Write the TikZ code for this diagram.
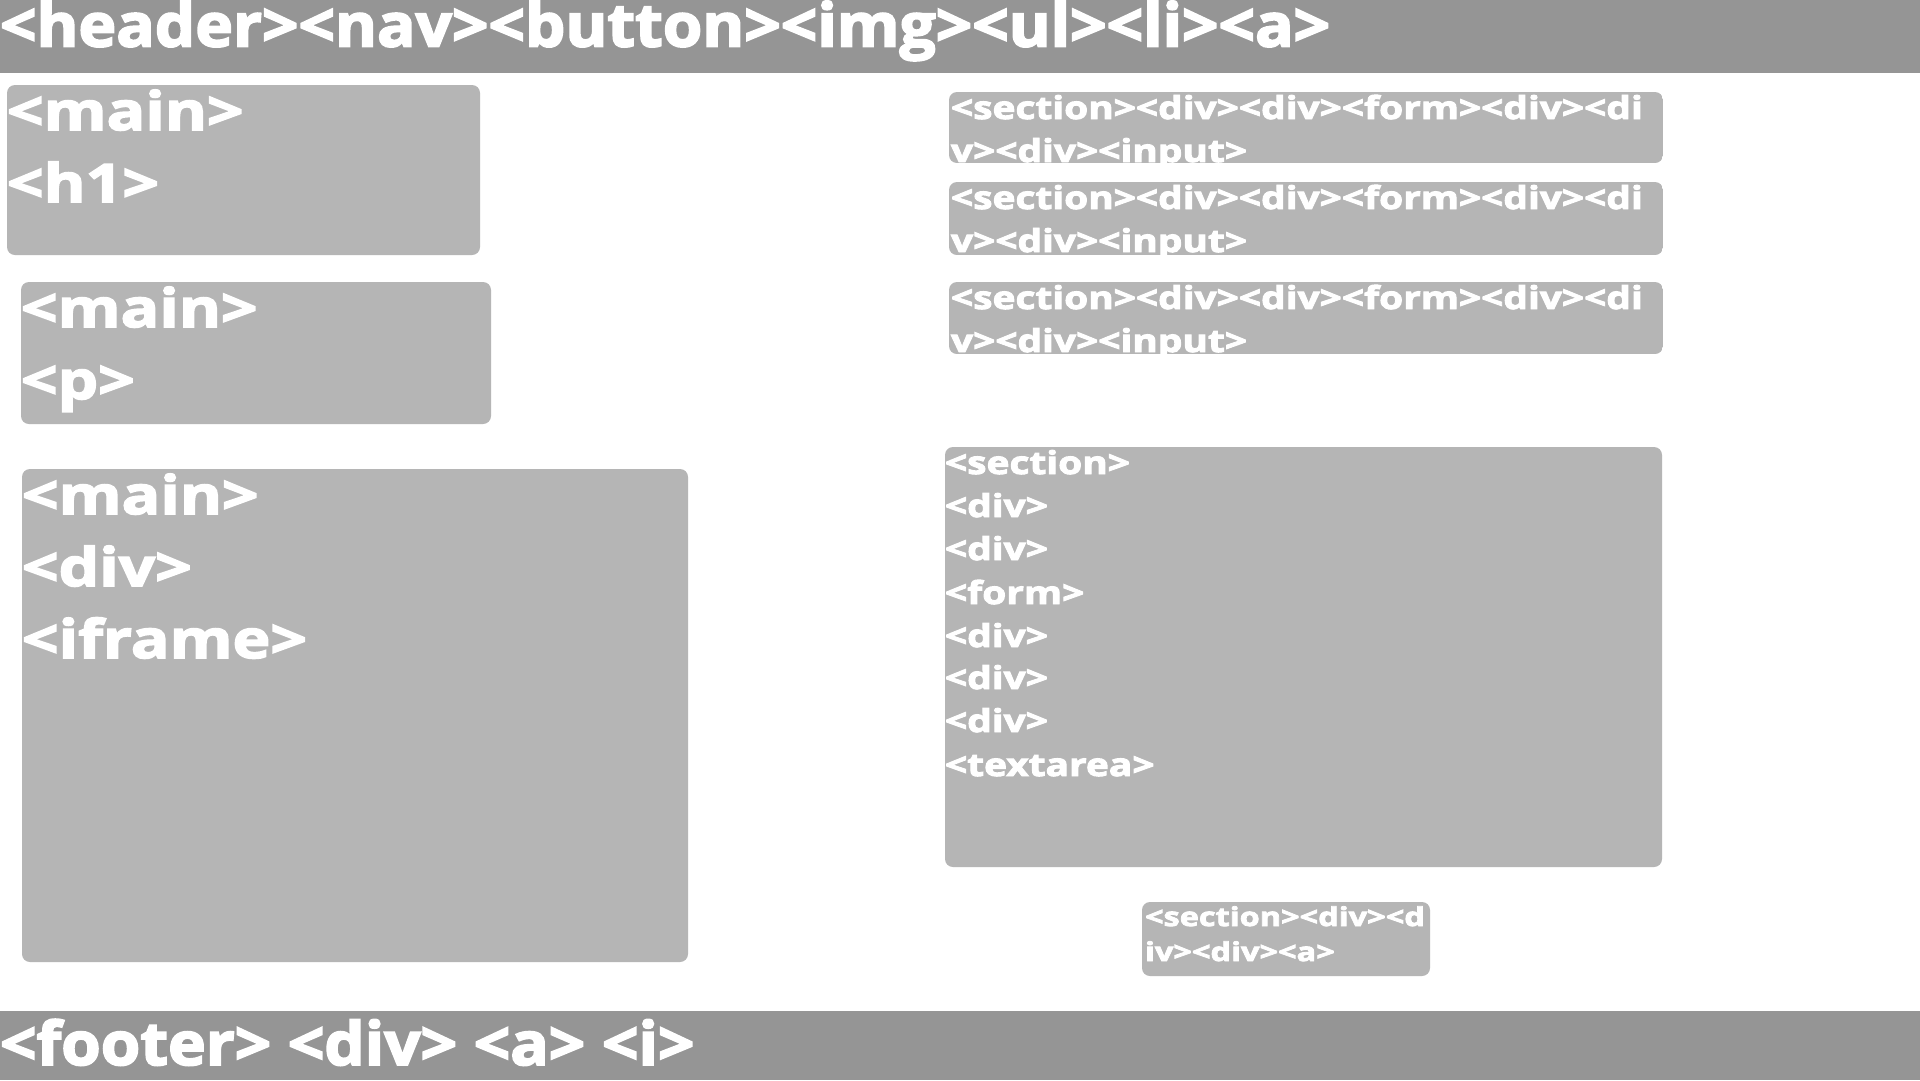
\documentclass[tikz,border=0pt]{standalone}
\usepackage{fontspec}
\setmainfont{Open Sans}
\newfontfamily\hdrfont{Open Sans}[FakeStretch=1.065, BoldFeatures={FakeBold=3}]
\newfontfamily\bigfont{Open Sans}[FakeStretch=1.21, BoldFeatures={FakeBold=3}]
\newfontfamily\midfont{Open Sans}[FakeStretch=1.23, BoldFeatures={FakeBold=3}]
\newfontfamily\smlfont{Open Sans}[FakeStretch=1.25, BoldFeatures={FakeBold=3}]
\definecolor{hdr}{HTML}{959595}
\definecolor{boxc}{HTML}{B5B5B5}
\tikzset{
  bar/.style={fill=hdr, draw=none},
  panel/.style={fill=boxc, draw=none, rounded corners=8pt},
  lbl/.style={anchor=base west, inner sep=0pt, outer sep=0pt, text=white},
  hugetxt/.style={lbl, font=\hdrfont\fontsize{60}{80}\selectfont\bfseries},
  bigtxt/.style={lbl, font=\bigfont\fontsize{53}{72}\selectfont\bfseries},
  midtxt/.style={lbl, font=\midfont\fontsize{31.6}{43}\selectfont\bfseries},
  smltxt/.style={lbl, font=\smlfont\fontsize{26}{35}\selectfont\bfseries},
}
\begin{document}
\begin{tikzpicture}[x=1pt,y=-1pt]
\useasboundingbox (0,0) rectangle (1920,1080);
\fill[white] (0,0) rectangle (1920,1080);
% header
\fill[bar] (0,0) rectangle (1920,73);
\node[hugetxt] (hdrtxt) at (0,46.5) {<header><nav><button><img><ul><li><a>};
% footer
\fill[bar] (0,1011) rectangle (1920,1080);
\node[hugetxt] (ftrtxt) at (0,1065) {<footer> <div> <a> <i>};
% left boxes
\fill[panel] (7,85) rectangle (480,255);
\node[bigtxt] (a1) at (7,130) {<main>};
\node[bigtxt] (a2) at (7,202) {<h1>};
\fill[panel] (21,282) rectangle (491,424);
\node[bigtxt] (b1) at (21,327) {<main>};
\node[bigtxt] (b2) at (21,399) {<p>};
\fill[panel] (22,469) rectangle (688,962);
\node[bigtxt] (c1) at (22,514) {<main>};
\node[bigtxt] (c2) at (22,586) {<div>};
\node[bigtxt] (c3) at (22,658) {<iframe>};
% right boxes (clipped)
\begin{scope}
\clip[rounded corners=8pt] (949,92) rectangle (1663,163);
\fill[boxc] (949,92) rectangle (1663,163);
\node[midtxt] (r1a) at (951,119) {<section><div><div><form><div><di};
\node[midtxt] (r1b) at (951,162) {v><div><input>};
\end{scope}
\begin{scope}
\clip[rounded corners=8pt] (949,182) rectangle (1663,255);
\fill[boxc] (949,182) rectangle (1663,255);
\node[midtxt] (r2a) at (951,209) {<section><div><div><form><div><di};
\node[midtxt] (r2b) at (951,252) {v><div><input>};
\end{scope}
\begin{scope}
\clip[rounded corners=8pt] (949,282) rectangle (1663,354);
\fill[boxc] (949,282) rectangle (1663,354);
\node[midtxt] (r3a) at (951,309) {<section><div><div><form><div><di};
\node[midtxt] (r3b) at (951,352) {v><div><input>};
\end{scope}
\fill[panel] (945,447) rectangle (1662,867);
\node[midtxt] (s1) at (945,474) {<section>};
\node[midtxt] (s2) at (945,517) {<div>};
\node[midtxt] (s3) at (945,560) {<div>};
\node[midtxt] (s4) at (945,604) {<form>};
\node[midtxt] (s5) at (945,647) {<div>};
\node[midtxt] (s6) at (945,689) {<div>};
\node[midtxt] (s7) at (945,732) {<div>};
\node[midtxt] (s8) at (945,776) {<textarea>};
\fill[panel] (1142,902) rectangle (1430,976);
\node[smltxt] (t1) at (1145,926) {<section><div><d};
\node[smltxt] (t2) at (1145,961) {iv><div><a>};
\end{tikzpicture}
\end{document}
